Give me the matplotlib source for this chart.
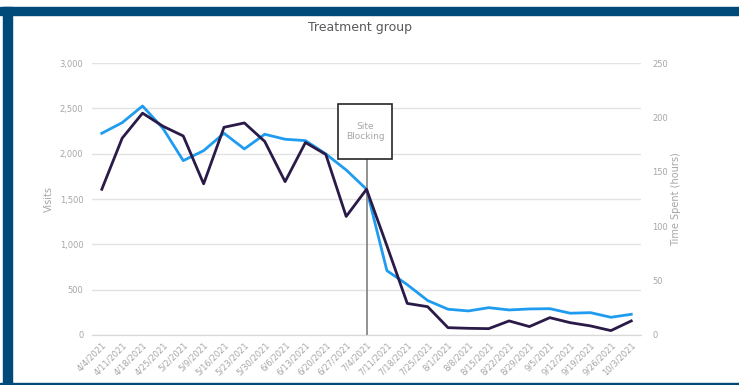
import matplotlib.pyplot as plt
from matplotlib.patches import Rectangle

weeks = ["4/4/2021", "4/11/2021", "4/18/2021", "4/25/2021", "5/2/2021", "5/9/2021",
         "5/16/2021", "5/23/2021", "5/30/2021", "6/6/2021", "6/13/2021", "6/20/2021",
         "6/27/2021", "7/4/2021", "7/11/2021", "7/18/2021", "7/25/2021", "8/1/2021",
         "8/8/2021", "8/15/2021", "8/22/2021", "8/29/2021", "9/5/2021", "9/12/2021",
         "9/19/2021", "9/26/2021", "10/3/2021"]

visits = [2226, 2343, 2527, 2281, 1924, 2034, 2226, 2053, 2215, 2160, 2145, 1998,
          1821, 1608, 710, 555, 380, 284, 265, 301, 276, 287, 290, 240, 246, 195, 228]

hours = [134, 181, 204, 192, 183, 139, 191, 195, 178, 141, 177, 166,
         109, 134, 82, 29, 26, 6.7, 6.1, 5.8, 12.9, 7.7, 15.9, 11.3, 8.3, 4.0, 12.9]

block_week = "7/4/2021"

grey = "#a6a6a6"
blue = "#1f9cf0"
dark = "#2a1a48"
plt.rcParams['font.family'] = ['Liberation Sans Narrow', 'DejaVu Sans']

fig = plt.figure(figsize=(7.39, 3.85), dpi=100)

# blue frame around the picture
fig.patches.append(Rectangle((0, 1 - 15 / 385), 1, 8 / 385, transform=fig.transFigure,
                             color="#004a7a", zorder=0))
fig.patches.append(Rectangle((3 / 739, 0), 9 / 739, 1 - 7 / 385, transform=fig.transFigure,
                             color="#004a7a", zorder=0))
fig.patches.append(Rectangle((0, 0), 1, 2.5 / 385, transform=fig.transFigure,
                             color="#004a7a", zorder=0))

ax = fig.add_axes([0.124, 0.130, 0.744, 0.706])
ax2 = ax.twinx()

x = list(range(len(weeks)))
ax.plot(x, visits, color=blue, lw=2, zorder=3)
ax2.plot(x, hours, color=dark, lw=2, zorder=3)

ax.set_xlim(-0.5, len(weeks) - 0.5)
ax.set_ylim(0, 3000)
ax2.set_ylim(0, 250)
ax.set_yticks(range(0, 3001, 500))
ax.set_yticklabels([f"{v:,}" for v in range(0, 3001, 500)])
ax2.set_yticks(range(0, 251, 50))

ax.set_xticks(x)
ax.set_xticklabels(weeks, rotation=45, ha="right", rotation_mode="anchor")
ax.grid(axis="y", color="#e3e3e3", lw=1)
ax.set_axisbelow(True)

for a in (ax, ax2):
    for s in ("top", "left", "right"):
        a.spines[s].set_visible(False)
    a.spines["bottom"].set_color("#d9d9d9")
    a.tick_params(colors=grey, labelsize=6, length=0)
ax.tick_params(axis="x", pad=4)
ax.tick_params(axis="y", pad=6)
ax2.tick_params(axis="y", pad=8)

ax.set_ylabel("Visits", color=grey, fontsize=7, labelpad=4)
ax2.set_ylabel("Time Spent (hours)", color=grey, fontsize=7, labelpad=2)

# site blocking marker
bx = weeks.index(block_week)
ax.plot([bx, bx], [0, 1942], color="#7f7f7f", lw=1.2, zorder=4)
ax.add_patch(Rectangle((bx - 1.38, 1942), 2.62, 604, facecolor="white",
                       edgecolor="#262626", lw=1.2, zorder=5))
ax.text(bx - 0.07, 2244, "Site\nBlocking", ha="center", va="center",
        color=grey, fontsize=6.5, zorder=6)

fig.text(0.487, 1 - 27 / 385, "Treatment group", ha="center", va="center",
         color="#595959", fontsize=9)

fig.savefig("out.png", dpi=100)
